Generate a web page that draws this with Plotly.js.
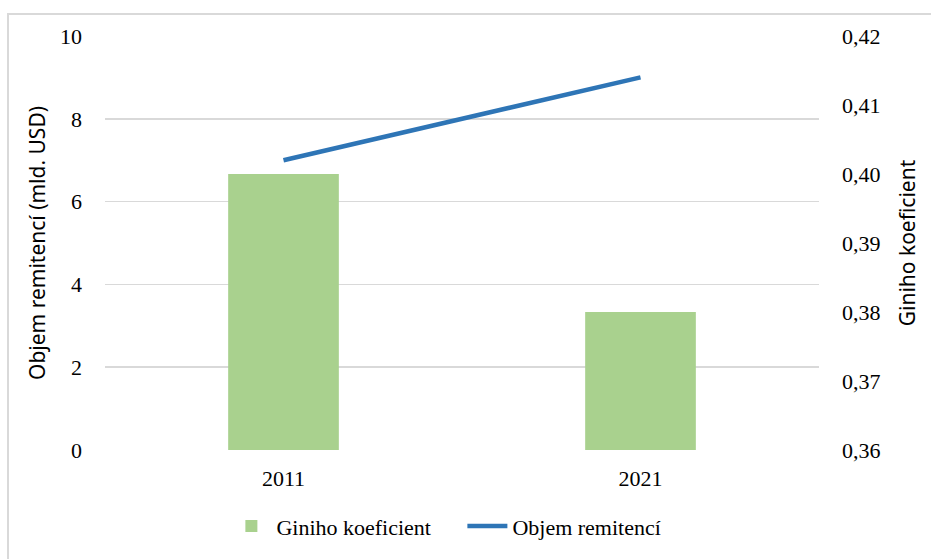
<!DOCTYPE html>
<html>
<head>
<meta charset="utf-8">
<script src="https://cdn.plot.ly/plotly-3.0.1.min.js"></script>
<style>html,body{margin:0;padding:0;background:#fff;}#chart{width:931px;height:559px;}</style>
</head>
<body>
<div id="chart"></div>
<script>
const years = ['2011', '2021'];
const giniValues = [0.40, 0.38];
const remittanceValues = [7.0, 9.0];
const giniName = 'Giniho koeficient';
const remittanceName = 'Objem remitencí';
const leftTitle = 'Objem remitencí (mld. USD)';
const rightTitle = 'Giniho koeficient';

const serif = '"Liberation Serif", serif';
const sans = '"Noto Sans", sans-serif';

const traces = [
  {
    type: 'bar', name: giniName, x: years, y: giniValues, yaxis: 'y2',
    width: 0.31, marker: {color: '#a9d18e'}
  },
  {
    type: 'scatter', mode: 'lines', name: remittanceName, x: years, y: remittanceValues, yaxis: 'y',
    line: {color: '#2e75b6', width: 4.5}
  }
];

const layout = {
  width: 931, height: 559,
  margin: {l: 105, r: 112, t: 36, b: 109},
  paper_bgcolor: '#ffffff', plot_bgcolor: '#ffffff',
  separators: ', ',
  showlegend: true,
  legend: {
    orientation: 'h', x: 0.17, xanchor: 'left', y: -0.184, yanchor: 'middle',
    font: {family: serif, size: 22, color: '#000'}, itemwidth: 40, traceorder: 'normal',
    entrywidth: 181, entrywidthmode: 'pixels'
  },
  xaxis: {
    type: 'category', range: [-0.5, 1.5], showgrid: false, zeroline: false, showline: false,
    ticks: '', tickfont: {family: serif, size: 22, color: '#000'}, ticklabelstandoff: 13
  },
  yaxis: {
    range: [0, 10], dtick: 2, showgrid: true, gridcolor: '#d9d9d9', gridwidth: 1.5,
    zeroline: false, showline: false, ticks: '', ticklabelstandoff: 22,
    tickfont: {family: serif, size: 22, color: '#000'},
    title: {text: leftTitle, font: {family: sans, size: 21, color: '#000'}, standoff: 8}
  },
  yaxis2: {
    overlaying: 'y', side: 'right', range: [0.36, 0.42], dtick: 0.01, tickformat: '.2f',
    showgrid: false, zeroline: false, showline: false, ticks: '', ticklabelstandoff: 22,
    tickfont: {family: serif, size: 22, color: '#000'},
    title: {text: rightTitle, font: {family: sans, size: 21, color: '#000'}, standoff: 20}
  },
  shapes: [
    {type: 'rect', xref: 'paper', yref: 'paper',
     x0: (8 - 105) / 714, x1: (945 - 105) / 714, y0: (450 - 575) / 414, y1: (450 - 14) / 414,
     line: {color: '#d9d9d9', width: 2}, fillcolor: 'rgba(0,0,0,0)', layer: 'below'}
  ]
};

Plotly.newPlot('chart', traces, layout, {displayModeBar: false, staticPlot: true});
</script>
</body>
</html>
